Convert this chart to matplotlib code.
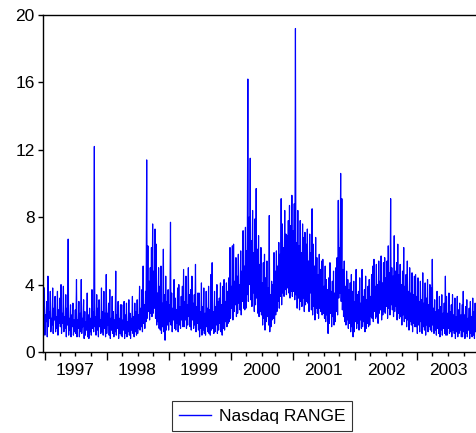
import matplotlib
matplotlib.use("Agg")
import matplotlib.pyplot as plt
import matplotlib.dates as mdates
from matplotlib.ticker import FuncFormatter, NullFormatter
import numpy as np
import pandas as pd

plt.rcParams['font.family'] = ['Liberation Sans', 'DejaVu Sans']

# Weekly high / low of the daily Nasdaq range, 13 weeks per quarter
hi_1997 = [3.8, 2.2, 3.0, 4.5, 2.4, 3.6, 2.0, 3.8, 2.6, 3.3, 2.1, 3.6, 2.5,
           3.2, 4.0, 2.3, 3.9, 2.1, 3.4, 2.6, 6.7, 2.0, 2.8, 2.2, 2.9, 1.9,
           2.5, 4.3, 1.9, 3.0, 2.3, 4.3, 2.0, 3.1, 2.4, 1.8, 3.5, 2.2, 2.6,
           2.0, 3.7, 2.4, 12.2, 2.1, 3.4, 2.6, 3.1, 1.9, 3.8, 2.4, 3.6, 2.3]
lo_1997 = [1.0, 1.8, 0.9, 1.5, 2.0, 1.2, 1.6, 1.1, 1.9, 1.2, 1.4, 1.0, 1.7,
           1.5, 1.1, 1.7, 1.2, 1.4, 0.9, 1.6, 1.0, 1.3, 0.9, 1.5, 1.0, 1.2,
           1.1, 0.9, 1.4, 0.9, 1.2, 1.1, 1.5, 0.8, 1.0, 1.3, 0.9, 0.8, 1.2,
           1.0, 1.4, 1.2, 1.5, 1.0, 1.3, 0.9, 1.5, 1.1, 1.2, 1.0, 1.4, 0.9]

hi_1998 = [4.6, 2.3, 2.9, 3.7, 2.0, 3.3, 2.4, 1.9, 4.8, 2.2, 3.0, 2.0, 2.8,
           2.8, 1.9, 3.0, 2.2, 2.9, 1.8, 3.1, 2.3, 2.0, 3.3, 2.1, 2.9, 2.4,
           3.1, 2.2, 3.9, 2.6, 3.7, 5.1, 2.8, 3.6, 11.4, 6.3, 4.2, 5.0, 6.2,
           7.6, 4.8, 7.3, 6.4, 3.5, 5.0, 3.9, 5.1, 2.9, 6.1, 3.4, 4.5, 3.0]
lo_1998 = [1.1, 1.6, 1.0, 0.8, 1.3, 1.1, 0.9, 1.2, 1.0, 1.4, 0.8, 1.1, 1.0,
           0.9, 1.3, 0.8, 1.1, 0.9, 1.2, 1.0, 0.8, 1.3, 1.1, 0.9, 1.2, 1.0,
           1.1, 1.4, 1.3, 1.5, 1.2, 1.7, 1.4, 1.8, 2.0, 2.4, 1.9, 2.3, 2.1,
           2.3, 2.6, 2.0, 1.6, 1.8, 1.4, 1.3, 1.1, 1.5, 1.2, 0.7, 1.3, 1.6]

hi_1999 = [3.7, 2.8, 7.7, 3.5, 2.6, 4.3, 3.2, 2.5, 3.8, 4.0, 2.7, 3.3, 3.9,
           4.9, 3.0, 4.5, 2.8, 5.0, 3.4, 3.7, 4.5, 2.9, 3.4, 5.2, 2.7, 3.5,
           3.5, 2.4, 4.1, 2.7, 3.8, 2.3, 3.6, 2.6, 3.9, 2.5, 4.6, 5.3, 2.4,
           3.6, 2.7, 4.0, 3.0, 3.2, 4.1, 2.8, 3.9, 4.3, 3.0, 4.1, 3.6, 4.4]
lo_1999 = [1.3, 1.8, 1.6, 1.2, 1.9, 1.4, 1.3, 1.7, 1.2, 1.6, 1.4, 1.9, 1.5,
           1.5, 1.9, 1.4, 1.6, 2.1, 1.5, 1.3, 1.9, 1.4, 1.6, 1.2, 1.7, 1.3,
           0.9, 1.4, 1.0, 1.3, 1.1, 1.0, 1.5, 1.2, 1.1, 1.0, 1.3, 1.4, 1.1,
           1.2, 1.6, 1.1, 1.3, 1.7, 1.2, 1.0, 1.4, 1.3, 1.8, 1.5, 1.7, 1.8]

hi_2000 = [6.2, 3.9, 6.3, 6.4, 4.2, 5.6, 4.5, 5.8, 4.0, 6.0, 4.8, 7.2, 5.1,
           7.4, 6.0, 16.2, 8.0, 11.5, 6.6, 8.4, 5.9, 7.9, 9.7, 6.1, 6.9, 5.2,
           6.2, 4.1, 5.3, 5.8, 4.4, 5.4, 3.8, 8.1, 3.4, 4.2, 4.0, 5.9, 4.8,
           6.0, 5.1, 6.5, 5.8, 9.1, 7.6, 6.2, 8.4, 7.0, 6.9, 7.8, 8.7, 7.5]
lo_2000 = [2.0, 2.6, 1.9, 2.4, 2.8, 2.1, 2.3, 2.9, 2.5, 2.2, 3.0, 2.6, 2.5,
           2.6, 3.4, 3.0, 4.0, 3.1, 2.7, 3.5, 2.4, 2.8, 3.2, 2.3, 2.1, 2.4,
           2.2, 1.6, 2.0, 1.3, 1.8, 2.1, 1.6, 1.2, 1.5, 1.9, 2.0, 1.7, 2.2,
           2.4, 3.0, 2.6, 3.3, 2.8, 3.5, 3.3, 3.7, 3.4, 3.8, 3.5, 3.2, 3.6]

hi_2001 = [9.3, 7.2, 8.8, 19.2, 6.5, 8.4, 6.3, 7.8, 5.9, 7.6, 6.8, 7.1, 6.4,
           7.3, 5.4, 7.0, 5.9, 8.5, 6.4, 5.1, 6.8, 5.6, 4.6, 5.8, 4.9, 5.4,
           5.5, 3.9, 5.1, 4.3, 3.7, 4.4, 5.3, 3.6, 4.2, 4.8, 3.5, 5.0, 5.6,
           9.0, 6.2, 10.6, 9.1, 4.9, 5.4, 3.9, 4.8, 4.3, 3.7, 4.1, 4.6, 3.6]
lo_2001 = [3.3, 3.6, 3.1, 3.4, 2.6, 3.2, 2.5, 3.0, 2.7, 3.2, 2.4, 2.8, 3.0,
           2.9, 2.4, 3.5, 2.5, 2.2, 2.7, 1.9, 2.6, 2.3, 2.0, 2.6, 2.4, 2.2,
           2.3, 2.0, 1.8, 2.2, 1.1, 1.7, 2.3, 1.5, 2.1, 1.6, 1.8, 2.4, 2.2,
           3.2, 3.5, 3.0, 2.5, 2.1, 1.8, 1.6, 1.9, 1.4, 1.7, 1.2, 1.5, 0.9]

hi_2002 = [4.2, 3.0, 4.9, 3.4, 3.6, 4.4, 2.9, 4.9, 3.3, 3.7, 4.5, 3.1, 3.9,
           4.3, 3.3, 4.6, 5.1, 5.5, 3.9, 5.2, 4.0, 5.4, 4.2, 5.7, 4.1, 5.3,
           5.6, 4.4, 5.4, 6.3, 4.7, 9.1, 5.0, 4.5, 6.9, 4.8, 5.3, 6.4, 4.6,
           5.2, 4.0, 4.8, 6.2, 3.9, 4.6, 5.4, 3.6, 5.0, 3.5, 4.7, 3.4, 4.5]
lo_2002 = [1.2, 1.8, 1.4, 1.7, 1.3, 1.9, 1.4, 1.5, 1.8, 1.2, 1.4, 1.7, 1.5,
           1.6, 2.1, 2.0, 1.8, 2.4, 2.0, 2.1, 1.7, 2.3, 2.5, 1.9, 2.2, 2.4,
           2.3, 2.7, 2.0, 2.6, 2.2, 2.8, 2.5, 2.1, 2.4, 2.7, 1.9, 2.3, 2.0,
           2.1, 1.6, 2.2, 1.8, 2.0, 1.5, 1.9, 1.3, 1.8, 1.6, 1.2, 1.7, 1.5]

hi_2003 = [4.6, 3.3, 4.4, 3.0, 4.2, 3.1, 4.7, 2.9, 4.1, 3.2, 4.3, 2.8, 4.0,
           3.8, 5.5, 2.6, 3.1, 2.4, 3.6, 2.5, 3.3, 2.7, 3.4, 2.3, 2.9, 4.5,
           3.3, 2.3, 3.5, 2.4, 2.8, 3.4, 2.2, 3.2, 2.1, 3.3, 2.5, 2.9, 2.2,
           2.8, 3.6, 2.2, 2.7, 3.1, 2.0, 2.6, 3.0, 2.1, 3.2, 2.4, 2.9, 2.3]
lo_2003 = [1.5, 1.1, 1.6, 1.2, 1.8, 1.1, 1.5, 1.3, 1.0, 1.6, 1.2, 1.5, 1.3,
           1.2, 1.6, 1.1, 1.3, 1.0, 1.4, 1.1, 0.9, 1.3, 1.0, 1.4, 1.1, 1.0,
           1.0, 1.4, 1.1, 1.2, 0.9, 1.3, 1.1, 0.8, 1.2, 0.9, 1.1, 1.3, 0.9,
           0.9, 1.2, 0.8, 1.1, 0.9, 1.3, 0.8, 1.1, 0.9, 1.0, 0.8, 1.2, 0.9]

series_name = "Nasdaq RANGE"
y_ticks = [0, 4, 8, 12, 16, 20]

highs = np.concatenate([hi_1997, hi_1998, hi_1999, hi_2000, hi_2001, hi_2002, hi_2003])
lows = np.concatenate([lo_1997, lo_1998, lo_1999, lo_2000, lo_2001, lo_2002, lo_2003])
weeks = pd.date_range("1996-12-30", periods=len(highs), freq="7D")

# interleave: weekly high on Monday, weekly low on Thursday
t = np.empty(2 * len(highs), dtype="datetime64[ns]")
t[0::2] = weeks.values
t[1::2] = (weeks + pd.Timedelta(days=3)).values
v = np.empty(2 * len(highs))
v[0::2] = highs
v[1::2] = lows

fig = plt.figure(figsize=(4.77, 4.33), dpi=100)
ax = fig.add_axes([43 / 477, 81 / 433, 434 / 477, 337 / 433])
line, = ax.plot(t, v, color="#0000FF", linewidth=0.85, label=series_name)

ax.set_xlim(pd.Timestamp("1996-12-22"), pd.Timestamp("2003-12-19"))
ax.set_ylim(0, 20)
ax.set_yticks(y_ticks)

ax.xaxis.set_major_locator(mdates.YearLocator())
ax.xaxis.set_major_formatter(NullFormatter())
ax.xaxis.set_minor_locator(mdates.MonthLocator(bymonth=[4, 7, 10]))


def year_label(val, pos):
    d = mdates.num2date(val)
    return str(d.year) if d.month == 7 else ""


ax.xaxis.set_minor_formatter(FuncFormatter(year_label))
ax.tick_params(axis="x", which="major", length=6, width=1, direction="out")
ax.tick_params(axis="x", which="minor", length=3.2, width=1, direction="out",
               labelsize=12.5, pad=5)
ax.tick_params(axis="y", length=3.6, width=1, direction="out", labelsize=12.5, pad=2.5)

for side in ("top", "left", "bottom"):
    ax.spines[side].set_linewidth(1.0)
    ax.spines[side].set_color("black")
ax.spines["right"].set_visible(False)

leg = fig.legend(handles=[line], loc="center", bbox_to_anchor=(262 / 477, 1 - 416 / 433),
                 fontsize=12.5, frameon=True, fancybox=False, shadow=False,
                 handlelength=1.85, handletextpad=0.45, borderpad=0.4, borderaxespad=0)
leg.get_frame().set_edgecolor("black")
leg.get_frame().set_linewidth(0.8)
leg.get_lines()[0].set_linewidth(1.0)

fig.savefig("out.png", dpi=100)
